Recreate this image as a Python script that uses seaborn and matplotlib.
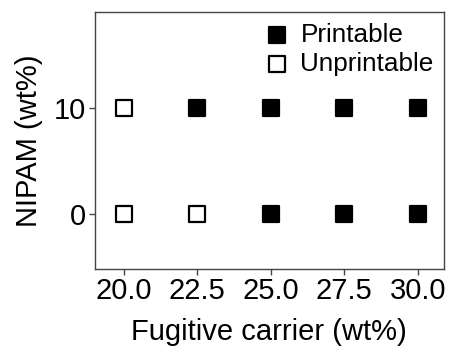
import pandas as pd
import seaborn as sns
import matplotlib.pyplot as plt

# DATA
carrier = [20.0, 22.5, 25.0, 27.5, 30.0, 20.0, 22.5, 25.0, 27.5, 30.0]
nipam = [10, 10, 10, 10, 10, 0, 0, 0, 0, 0]
status = ["Unprintable", "Printable", "Printable", "Printable", "Printable",
          "Unprintable", "Unprintable", "Printable", "Printable", "Printable"]
x_ticks = [20.0, 22.5, 25.0, 27.5, 30.0]
y_ticks = [0, 10]

df = pd.DataFrame({"carrier": carrier, "nipam": nipam, "status": status})

sns.set_style("ticks")
plt.rcParams['font.family'] = ['Liberation Sans', 'DejaVu Sans']
plt.rcParams['text.color'] = 'black'
plt.rcParams['axes.labelcolor'] = 'black'
plt.rcParams['xtick.color'] = 'black'
plt.rcParams['ytick.color'] = 'black'

fig, ax = plt.subplots(figsize=(4.5, 3.47), dpi=100)

for lab, fc in [("Printable", "black"), ("Unprintable", "white")]:
    sub = df[df.status == lab]
    sns.scatterplot(data=sub, x="carrier", y="nipam", marker="s", s=120,
                    facecolor=fc, edgecolor="black", linewidth=1.6,
                    label=lab, ax=ax)

ax.set_xlim(19.0, 30.9)
ax.set_ylim(-5.2, 19.0)
ax.set_xticks(x_ticks)
ax.set_xticklabels([f"{v:.1f}" for v in x_ticks])
ax.set_yticks(y_ticks)
ax.tick_params(labelsize=21, length=4, width=1, color="#444444",
               labelcolor="black", direction="out", pad=2)
ax.set_xlabel("Fugitive carrier (wt%)", fontsize=21, color="black", labelpad=9)
ax.set_ylabel("NIPAM (wt%)", fontsize=21, color="black", labelpad=8)
for sp in ax.spines.values():
    sp.set_visible(True)
    sp.set_color("#444444")
    sp.set_linewidth(1)

ax.legend(loc="upper right", frameon=False, fontsize=18.8, handlelength=1.2,
          handletextpad=0.3, borderaxespad=0.0, labelspacing=0.2, markerscale=1.0)

plt.subplots_adjust(left=0.21, right=0.987, top=0.965, bottom=0.225)
plt.savefig("out.png", dpi=100)
